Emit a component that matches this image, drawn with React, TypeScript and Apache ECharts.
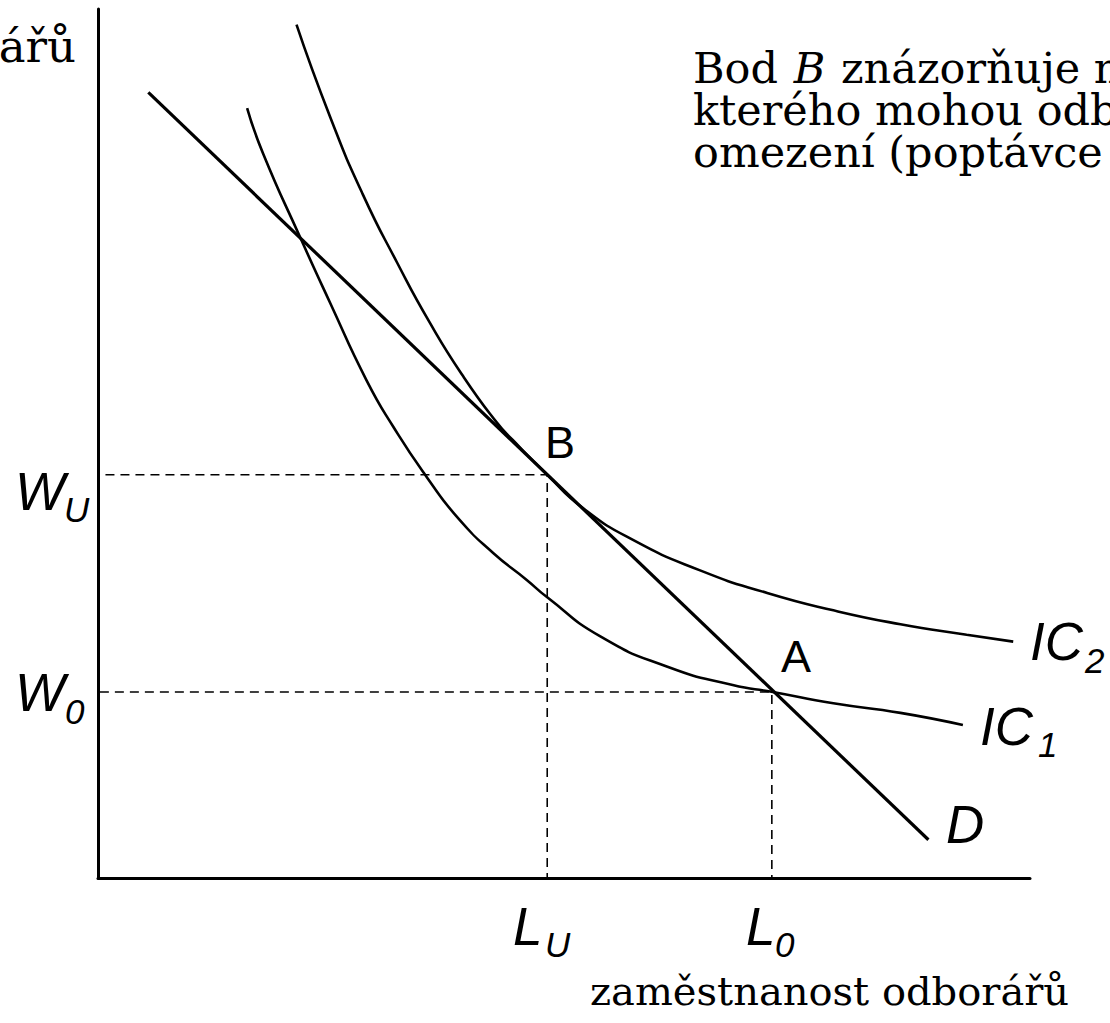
import React, { useEffect, useRef } from "react";
import * as echarts from "echarts";

// ---- data (axis units: employment 0..10, wage 0..10) ----
const demandCurve: [number, number][] = [
  [0.54, 9.04],
  [8.91, 0.44],
];

const ic1Curve: [number, number][] = [
  [1.6, 8.86], [1.77, 8.34], [2.17, 7.37], [2.49, 6.62], [2.88, 5.73],
  [3.17, 5.19], [3.53, 4.61], [3.88, 4.12], [4.24, 3.74], [4.6, 3.43],
  [4.82, 3.23], [5.39, 2.78], [6.11, 2.43], [6.81, 2.22], [7.24, 2.14],
  [7.89, 2.01], [8.61, 1.9], [9.28, 1.76],
];

const ic2Curve: [number, number][] = [
  [2.13, 9.82], [2.49, 8.76], [2.84, 7.87], [3.21, 7.08], [3.56, 6.39],
  [3.92, 5.77], [4.28, 5.24], [4.45, 5.04], [4.82, 4.64], [5.2, 4.26],
  [5.74, 3.89], [6.46, 3.54], [7.18, 3.28], [7.89, 3.08], [8.61, 2.92],
  [9.32, 2.8], [9.82, 2.72],
];

const LU = 4.82;
const L0 = 7.23;
const WU = 4.64;
const W0 = 2.14;

const unionGuide: [number, number][] = [[0.08, WU], [LU, WU], [LU, 0]];
const competitiveGuide: [number, number][] = [[0.02, W0], [L0, W0], [L0, 0]];

const infoLine1 = ["Bod", "B", "znázorňuje maximální užitek,"];
const infoLine2 = "kterého mohou odboráři dosáhnout při daném";
const infoLine3 = "omezení (poptávce po práci).";
const yAxisTitle = "mzda odborářů";
const xAxisTitle = "zaměstnanost odborářů";

// ---- layout ----
const W = 1110;
const H = 1023;
const sans = "'Liberation Sans', Arial, sans-serif";
const serif = "'DejaVu Serif', serif";

function txt(
  text: string,
  x: number,
  baseline: number,
  fs: number,
  family: string,
  italic: boolean,
  align: string = "left",
  lineHeight?: number
) {
  return {
    type: "text",
    x,
    y: baseline - 0.35 * fs,
    silent: true,
    z: 100,
    style: {
      text,
      fontSize: fs,
      fontFamily: family,
      fontStyle: italic ? "italic" : "normal",
      fill: "#000",
      textAlign: align,
      align,
      textVerticalAlign: "middle",
      verticalAlign: "middle",
      lineHeight: lineHeight ?? Math.round(fs * 1.1),
    },
  };
}

function measure(text: string, fs: number, family: string, italic: boolean) {
  const c = document.createElement("canvas").getContext("2d");
  if (!c) return text.length * fs * 0.55;
  c.font = `${italic ? "italic " : ""}${fs}px ${family}`;
  return c.measureText(text).width;
}

export default function App() {
  const ref = useRef<HTMLDivElement>(null);

  useEffect(() => {
    document.body.style.margin = "0";
    const chart = echarts.init(ref.current!, null, {
      renderer: "svg",
      width: W,
      height: H,
    });

    const axisCommon = {
      type: "value",
      min: 0,
      max: 10,
      axisLine: { show: true, onZero: false, lineStyle: { color: "#000", width: 3 } },
      axisTick: { show: false },
      axisLabel: { show: false },
      splitLine: { show: false },
    };

    const curve = (data: [number, number][], width: number, smooth: number | boolean) => ({
      type: "line",
      data,
      smooth,
      symbol: "none",
      lineStyle: { color: "#000", width },
      z: 5,
    });

    const guide = (data: [number, number][]) => ({
      type: "line",
      data,
      symbol: "none",
      lineStyle: { color: "#000", width: 1.6, type: [9, 6] },
      z: 2,
    });

    const infoFs = 43;
    const infoLH = 38;
    const infoX = 693;
    const space = measure(" ", infoFs, serif, false);
    const wBod = measure(infoLine1[0], infoFs, serif, false);
    const wB = measure(infoLine1[1], infoFs, serif, true);
    const xB = infoX + wBod + space + 2;
    const xRest = xB + wB + space + 2;

    chart.setOption({
      animation: false,
      backgroundColor: "#fff",
      grid: { left: 98, top: 9, right: 80, bottom: 145, containLabel: false },
      xAxis: axisCommon,
      yAxis: axisCommon,
      series: [
        guide(unionGuide),
        guide(competitiveGuide),
        curve(demandCurve, 3.2, false),
        curve(ic1Curve, 2.6, 0.55),
        curve(ic2Curve, 2.6, 0.55),
      ],
      graphic: [
        // axis value labels
        txt("W", 15, 510, 53, sans, true),
        txt("U", 64, 522, 35, sans, true),
        txt("W", 15, 711, 53, sans, true),
        txt("0", 65, 724, 35, sans, true),
        txt("L", 513, 945, 53, sans, true),
        txt("U", 545, 957, 35, sans, true),
        txt("L", 746, 945, 53, sans, true),
        txt("0", 775, 957, 35, sans, true),
        // curve labels
        txt("IC", 1030, 660, 53, sans, true),
        txt("2", 1085, 673, 35, sans, true),
        txt("IC", 980, 745, 53, sans, true),
        txt("1", 1038, 757, 35, sans, true),
        txt("D", 946, 843, 53, sans, true),
        // points
        txt("B", 545, 458, 45, sans, false),
        txt("A", 781, 672, 45, sans, false),
        // serif texts
        txt(yAxisTitle, 76, 62, 45, serif, false, "right"),
        txt(infoLine1[0], infoX, 83, infoFs, serif, false, "left", infoLH),
        txt(infoLine1[1], xB, 83, infoFs, serif, true, "left", infoLH),
        txt(infoLine1[2], xRest, 83, infoFs, serif, false, "left", infoLH),
        txt(infoLine2, infoX, 125, infoFs, serif, false, "left", infoLH),
        txt(infoLine3, infoX, 167, infoFs, serif, false, "left", infoLH),
        txt(xAxisTitle, 590, 1005, 40, serif, false),
      ],
    });

    return () => chart.dispose();
  }, []);

  return <div ref={ref} style={{ width: W, height: H }} />;
}
